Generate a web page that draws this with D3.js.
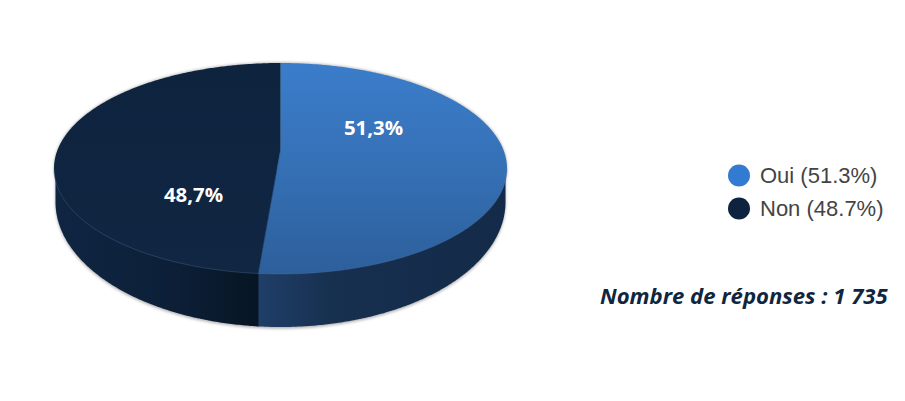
<!DOCTYPE html>
<html><head><meta charset="utf-8">
<script src="https://cdn.jsdelivr.net/npm/d3@7"></script>
<style>html,body{margin:0;padding:0;background:#fff;overflow:hidden}</style>
</head><body><svg id="c" width="905" height="401"></svg>
<script>
const categories = ["Oui", "Non"];
const values = [51.3, 48.7];
const sliceLabels = ["51,3%", "48,7%"];
const legendLabels = ["Oui (51.3%)", "Non (48.7%)"];
const legendColors = ["#327ad2", "#0e233f"];
const footnote = "Nombre de réponses : 1 735";

const W = 905, H = 401;
const cx = 280.5, cy = 168.5, rx = 226.5, ry = 105.5;
const persp = -0.175;                       // perspective shift of the pie centre
const bx = 225, bCy = 202, bRy = 125;       // lower rim of the side wall
const svg = d3.select("#c").attr("viewBox", [0, 0, W, H]);
const defs = svg.append("defs");

function grad(id, x2, y2, stops) {
  const g = defs.append("linearGradient").attr("id", id)
    .attr("x1", 0).attr("y1", 0).attr("x2", x2).attr("y2", y2);
  stops.forEach(([o, c]) => g.append("stop").attr("offset", o).attr("stop-color", c));
}
grad("topOui", 0, 1, [[0, "#3b7dcb"], [0.5, "#3570b5"], [1, "#2d5f9b"]]);
grad("topNon", 0, 1, [[0, "#0e233e"], [1, "#102642"]]);
grad("wallOui", 1, 0, [[0, "#1f3f69"], [0.3, "#17304f"], [1, "#132a48"]]);
grad("wallNon", 1, 0, [[0, "#0f2542"], [0.6, "#0c1f37"], [1, "#071523"]]);
const blur = defs.append("filter").attr("id", "shadow")
  .attr("x", "-5%").attr("y", "-5%").attr("width", "110%").attr("height", "115%");
blur.append("feGaussianBlur").attr("stdDeviation", 1.6);

const pie = d3.pie().sort(null).value(d => d).startAngle(0).endAngle(2 * Math.PI);
const slices = pie(values);

// slice angle -> point on the top rim, seen in perspective
const rim = a => {
  const x = Math.sin(a), y = -Math.cos(a), k = 1 + persp * y;
  return [cx + rx * x * Math.sqrt(1 - persp * persp) / k, cy + ry * (y + persp) / k];
};
const apex = [cx, cy + ry * persp];
const step = Math.PI / 360;
const topPoints = d => {
  const as = d3.range(d.startAngle, d.endAngle, step).concat([d.endAngle]);
  return [apex, ...as.map(rim), apex];
};
const polyline = d3.line();

// lower rim of the wall, taken from where the slice boundary meets the rim
const wall = d3.area()
  .x(a => cx + bx * Math.sin(a))
  .y0(cy)
  .y1(a => bCy - bRy * Math.cos(a));
const wallAngle = a => Math.PI - Math.asin((rim(a)[0] - cx) / bx);
const wallRange = (s, e) => d3.range(s, e, step).concat([e]);
const seamOverlap = 0.01;
const wallSpans = slices.map(d => {
  const s = d.startAngle === 0 ? Math.PI / 2 : wallAngle(d.startAngle);
  const e = d.endAngle >= 2 * Math.PI - 1e-6 ? 3 * Math.PI / 2 : wallAngle(d.endAngle) + seamOverlap;
  return wallRange(s, e);
});

// soft shadow round the body
const shadow = svg.append("g").attr("filter", "url(#shadow)").attr("fill", "#777").attr("opacity", 0.6);
shadow.append("path").attr("d", wall(wallRange(Math.PI / 2, 3 * Math.PI / 2))).attr("transform", "translate(0,1.5)");
shadow.append("ellipse").attr("cx", cx).attr("cy", cy - 0.5).attr("rx", rx).attr("ry", ry);

// side walls
const wallIds = ["wallOui", "wallNon"];
svg.append("g").selectAll("path").data(wallSpans).join("path")
  .attr("d", d => wall(d))
  .attr("fill", (d, i) => `url(#${wallIds[i]})`);

// top face
const topIds = ["topOui", "topNon"];
svg.append("g").selectAll("path").data(slices).join("path")
  .attr("d", d => polyline(topPoints(d)))
  .attr("fill", (d, i) => `url(#${topIds[i]})`);

// faint divider between slices
svg.append("g").selectAll("path").data(slices).join("path")
  .attr("d", d => polyline([apex, rim(d.startAngle)]))
  .attr("fill", "none").attr("stroke", "#2f5c90").attr("stroke-opacity", 0.6).attr("stroke-width", 1);

// faint rim highlight on the front edge
svg.append("path")
  .attr("d", polyline(wallRange(Math.PI / 2, 3 * Math.PI / 2).map(a => [cx + rx * Math.sin(a), cy - ry * Math.cos(a)])))
  .attr("fill", "none").attr("stroke", "#4f78a8").attr("stroke-opacity", 0.35).attr("stroke-width", 1);

// slice labels
const labelPos = [[373.5, 128], [193.5, 195]];
svg.append("g").selectAll("text").data(sliceLabels).join("text")
  .attr("x", (d, i) => labelPos[i][0]).attr("y", (d, i) => labelPos[i][1])
  .attr("dy", "0.35em").attr("text-anchor", "middle")
  .attr("font-family", "'Open Sans'").attr("font-weight", 700).attr("font-size", 20.4)
  .attr("fill", "#fff").text(d => d);

// legend
const legendY = d3.scalePoint().domain(categories).range([175.5, 208.5]);
const legend = svg.append("g").selectAll("g").data(categories).join("g")
  .attr("transform", d => `translate(0,${legendY(d)})`);
legend.append("circle").attr("cx", 739).attr("r", 11)
  .attr("fill", (d, i) => legendColors[i]);
legend.append("text").attr("x", 760).attr("dy", "0.35em")
  .attr("font-family", "'Liberation Sans'").attr("font-size", 22)
  .attr("fill", "#444").text((d, i) => legendLabels[i]);

// footnote
svg.append("text").attr("x", 600).attr("y", 304)
  .attr("font-family", "'Open Sans'").attr("font-style", "italic").attr("font-weight", 700)
  .attr("font-size", 22.1).attr("fill", "#10263f").text(footnote);
</script></body></html>
